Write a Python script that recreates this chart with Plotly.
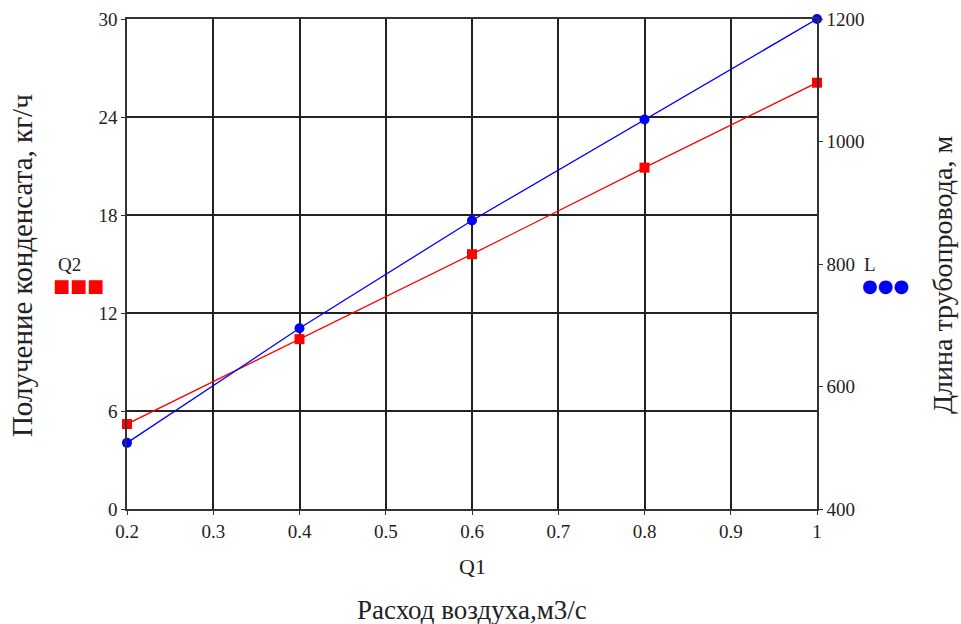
import plotly.graph_objects as go

Q1 = [0.2, 0.4, 0.6, 0.8, 1.0]
Q2 = [5.2, 10.4, 15.6, 20.9, 26.1]
L = [508, 695, 871, 1036, 1200]

x_ticks = [0.2, 0.3, 0.4, 0.5, 0.6, 0.7, 0.8, 0.9, 1.0]
x_tick_text = ["0.2", "0.3", "0.4", "0.5", "0.6", "0.7", "0.8", "0.9", "1"]
y1_ticks = [0, 6, 12, 18, 24, 30]
y2_ticks = [400, 600, 800, 1000, 1200]

FONT = "Liberation Serif, Times New Roman, serif"

fig = go.Figure()
fig.add_trace(go.Scatter(
    x=Q1, y=Q2, mode="lines+markers", name="Q2",
    line=dict(color="#ff0000", width=1.3),
    marker=dict(symbol="square", size=10, color="#ff0000"),
    cliponaxis=False, yaxis="y"))
fig.add_trace(go.Scatter(
    x=Q1, y=L, mode="lines+markers", name="L",
    line=dict(color="#0000ff", width=1.3),
    marker=dict(symbol="circle", size=10, color="#0000ff"),
    cliponaxis=False, yaxis="y2"))

axis_common = dict(showline=True, linecolor="#333333", linewidth=1.5,
                   ticks="outside", ticklen=4, tickcolor="#333333",
                   tickfont=dict(family=FONT, size=19, color="#222222"),
                   zeroline=False, automargin=False)

fig.update_layout(
    width=961, height=624,
    margin=dict(l=127, r=144, t=19, b=115),
    paper_bgcolor="white", plot_bgcolor="white",
    showlegend=False,
    xaxis=dict(range=[0.2, 1.0], tickvals=x_ticks, ticktext=x_tick_text,
               showgrid=True, gridcolor="#222222", gridwidth=1.5,
               mirror=True, **axis_common),
    yaxis=dict(range=[0, 30], tickvals=y1_ticks,
               showgrid=True, gridcolor="#222222", gridwidth=1.5,
               **axis_common),
    yaxis2=dict(range=[400, 1200], tickvals=y2_ticks, overlaying="y",
                side="right", showgrid=False, **axis_common),
    annotations=[
        dict(text="Q1", x=0.5, y=-0.118, xref="paper", yref="paper",
             showarrow=False, font=dict(family=FONT, size=22, color="#222222"),
             xanchor="center", yanchor="middle"),
        dict(text="Расход воздуха,м3/с", x=0.5, y=-0.206, xref="paper", yref="paper",
             showarrow=False, font=dict(family=FONT, size=27, color="#222222"),
             xanchor="center", yanchor="middle"),
        dict(text="Получение конденсата, кг/ч", x=-0.152, y=0.496, xref="paper", yref="paper",
             showarrow=False, textangle=-90, font=dict(family=FONT, size=29, color="#222222"),
             xanchor="center", yanchor="middle"),
        dict(text="Длина трубопровода, м", x=1.183, y=0.478, xref="paper", yref="paper",
             showarrow=False, textangle=-90, font=dict(family=FONT, size=28, color="#222222"),
             xanchor="center", yanchor="middle"),
        dict(text="Q2", x=-0.083, y=0.498, xref="paper", yref="paper",
             showarrow=False, font=dict(family=FONT, size=19, color="#222222"),
             xanchor="center", yanchor="middle"),
        dict(text="■■■", x=-0.071, y=0.457, xref="paper", yref="paper",
             showarrow=False, font=dict(family="DejaVu Sans", size=18, color="#ff0000"),
             xanchor="center", yanchor="middle"),
        dict(text="L", x=1.077, y=0.498, xref="paper", yref="paper",
             showarrow=False, font=dict(family=FONT, size=19, color="#222222"),
             xanchor="center", yanchor="middle"),
        dict(text="●●●", x=1.099, y=0.457, xref="paper", yref="paper",
             showarrow=False, font=dict(family="DejaVu Sans", size=18, color="#0000ff"),
             xanchor="center", yanchor="middle"),
    ],
)

fig.write_html(
    "out.html",
    config={"displayModeBar": False},
    post_script="document.body.style.margin='0';document.body.style.overflow='hidden';",
)
